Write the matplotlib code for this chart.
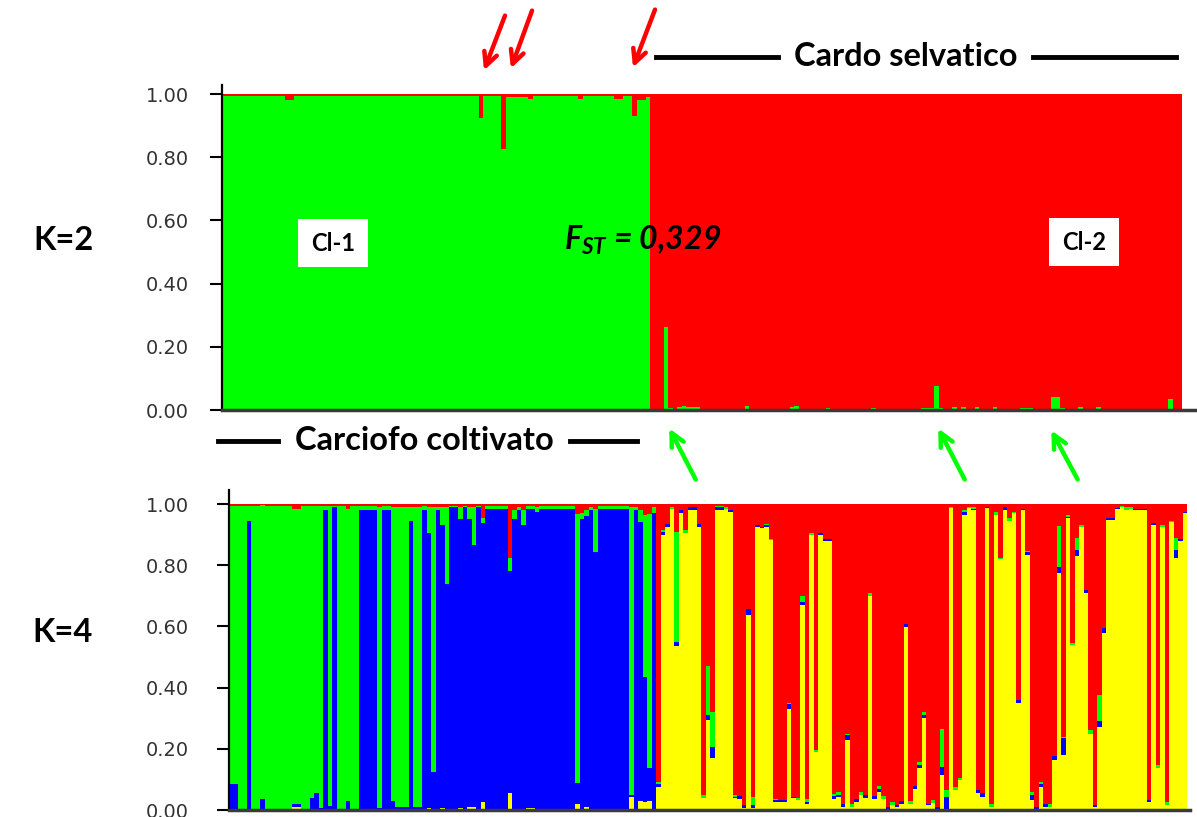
import numpy as np
import matplotlib
matplotlib.use('Agg')
import matplotlib.pyplot as plt

# colours of the clusters
GREEN = '#00ff00'
RED = '#ff0000'
BLUE = '#0000ff'
YELLOW = '#ffff00'

# K=2 : green membership, run-length (count, green); red = 1 - green
k2_cult = [(14, 0.995), (2, 0.98), (41, 0.995), (1, 0.925), (4, 0.995), (1, 0.825),
           (5, 0.99), (1, 0.985), (10, 0.993), (1, 0.985), (7, 0.993), (2, 0.985),
           (2, 0.993), (1, 0.93), (2, 0.98), (1, 0.99)]
k2_wild = [(3, 0.0), (1, 0.264), (1, 0.005), (1, 0.0), (1, 0.008), (1, 0.013), (3, 0.008),
           (10, 0.0), (1, 0.013), (9, 0.0), (1, 0.008), (1, 0.013), (6, 0.0), (1, 0.005),
           (9, 0.0), (1, 0.005), (10, 0.0), (3, 0.006), (1, 0.077), (1, 0.006), (2, 0.0),
           (1, 0.008), (1, 0.0), (1, 0.008), (2, 0.0), (1, 0.008), (3, 0.0), (1, 0.008),
           (5, 0.0), (3, 0.006), (4, 0.0), (2, 0.042), (1, 0.005), (3, 0.0), (1, 0.008),
           (3, 0.0), (1, 0.008), (15, 0.0), (1, 0.035), (2, 0.0)]

# K=4 cultivated : run-length (count, yellow, blue, green); red = rest
k4_cult = [(2, 0, 0.084, 0.911), (2, 0, 0, 0.995), (1, 0, 0.945, 0.05), (2, 0, 0, 0.995),
           (1, 0, 0.036, 0.96), (6, 0, 0, 0.995), (2, 0.01, 0.01, 0.965), (2, 0, 0, 0.995),
           (1, 0, 0.04, 0.955), (1, 0, 0.055, 0.94), (1, 0, 0.005, 0.99), (1, 0, 0.98, 0.015),
           (1, 0, 0.014, 0.98), (1, 0, 0.99, 0.005), (2, 0, 0, 0.995), (1, 0, 0.03, 0.955),
           (2, 0, 0, 0.995),
           (4, 0, 0.98, 0.012), (1, 0, 0.005, 0.985), (2, 0, 0.98, 0.012), (1, 0, 0.03, 0.96),
           (3, 0, 0.01, 0.98), (1, 0, 0.945, 0.045), (2, 0, 0.01, 0.98), (1, 0, 0.98, 0.015),
           (1, 0.005, 0.90, 0.085), (1, 0, 0.125, 0.865), (1, 0, 0.98, 0.01),
           (1, 0.005, 0.925, 0.06), (1, 0, 0.74, 0.25), (2, 0, 0.99, 0.005),
           (1, 0.005, 0.945, 0.04), (1, 0, 0.99, 0.005), (1, 0.01, 0.94, 0.04),
           (1, 0.01, 0.856, 0.125), (1, 0, 0.99, 0.005), (1, 0.025, 0.912, 0.016),
           (5, 0, 0.985, 0.01),
           (1, 0.054, 0.727, 0.041), (1, 0, 0.95, 0.03), (1, 0, 0.98, 0.01), (1, 0, 0.93, 0.05),
           (2, 0.005, 0.98, 0.01), (1, 0, 0.975, 0.015), (8, 0, 0.985, 0.01),
           (1, 0.02, 0.067, 0.88), (1, 0, 0.95, 0.02), (1, 0.01, 0.95, 0.02), (1, 0, 0.98, 0.01),
           (1, 0, 0.844, 0.14), (7, 0, 0.985, 0.01), (1, 0.044, 0.005, 0.94), (1, 0, 0.98, 0.01),
           (1, 0.03, 0.91, 0.04), (1, 0.025, 0.41, 0.53), (1, 0.028, 0.11, 0.83),
           (1, 0, 0.97, 0.02)]

# K=4 wild, one value per individual; red = rest
wild_yellow = [0.076, 0.90, 0.925, 0.985, 0.537, 0.97, 0.904, 0.98, 0.98, 0.925,
               0.038, 0.294, 0.17, 0.98, 0.98, 0.985, 0.975, 0.038, 0.035, 0.005,
               0.637, 0.005, 0.925, 0.92, 0.925, 0.882, 0.027, 0.027, 0.027, 0.33,
               0.038, 0.033, 0.67, 0.02, 0.90, 0.19, 0.90, 0.88, 0.88, 0.036,
               0.044, 0.011, 0.23, 0.01, 0.027, 0.05, 0.038, 0.70, 0.036, 0.06,
               0.036, 0.0, 0.016, 0.011, 0.019, 0.597, 0.019, 0.07, 0.136, 0.30,
               0.016, 0.022, 0.0, 0.114, 0.0, 0.986, 0.065, 0.098, 0.964, 0.986,
               0.98, 0.054, 0.044, 0.986, 0.011, 0.964, 0.82, 0.98, 0.945, 0.97,
               0.35, 0.98, 0.833, 0.033, 0.0, 0.076, 0.011, 0.011, 0.163, 0.773,
               0.18, 0.953, 0.54, 0.83, 0.926, 0.71, 0.25, 0.011, 0.27, 0.58,
               0.948, 0.948, 0.983, 0.99, 0.98, 0.985, 0.98, 0.98, 0.98, 0.027,
               0.933, 0.136, 0.926, 0.016, 0.94, 0.825, 0.88, 0.97]
wild_blue = [0.01, 0.01, 0.01, 0.0, 0.013, 0.01, 0.0, 0.01, 0.01, 0.01,
             0.0, 0.015, 0.035, 0.01, 0.01, 0.0, 0.005, 0.005, 0.01, 0.01,
             0.02, 0.01, 0.005, 0.005, 0.005, 0.0, 0.005, 0.005, 0.005, 0.015,
             0.005, 0.0, 0.01, 0.005, 0.0, 0.0, 0.005, 0.005, 0.005, 0.01,
             0.005, 0.01, 0.015, 0.0, 0.01, 0.0, 0.01, 0.0, 0.01, 0.01,
             0.0, 0.01, 0.0, 0.005, 0.01, 0.01, 0.0, 0.01, 0.01, 0.01,
             0.005, 0.0, 0.01, 0.027, 0.044, 0.0, 0.0, 0.0, 0.01, 0.0,
             0.005, 0.01, 0.01, 0.005, 0.0, 0.0, 0.0, 0.01, 0.0, 0.0,
             0.01, 0.005, 0.01, 0.015, 0.01, 0.01, 0.01, 0.0, 0.015, 0.02,
             0.054, 0.005, 0.0, 0.02, 0.0, 0.01, 0.0, 0.005, 0.02, 0.015,
             0.005, 0.005, 0.005, 0.0, 0.0, 0.0, 0.005, 0.005, 0.005, 0.005,
             0.005, 0.0, 0.0, 0.0, 0.0, 0.025, 0.005, 0.005]
wild_green = [0.005, 0.005, 0.0, 0.005, 0.36, 0.0, 0.01, 0.0, 0.0, 0.0,
              0.01, 0.16, 0.115, 0.005, 0.005, 0.005, 0.0, 0.005, 0.0, 0.0,
              0.0, 0.027, 0.0, 0.0, 0.005, 0.005, 0.005, 0.0, 0.0, 0.005,
              0.0, 0.005, 0.02, 0.01, 0.005, 0.005, 0.0, 0.0, 0.0, 0.005,
              0.01, 0.0, 0.005, 0.01, 0.0, 0.01, 0.0, 0.01, 0.0, 0.01,
              0.01, 0.0, 0.01, 0.0, 0.0, 0.0, 0.01, 0.0, 0.01, 0.01,
              0.0, 0.01, 0.0, 0.125, 0.02, 0.005, 0.01, 0.005, 0.005, 0.005,
              0.005, 0.0, 0.0, 0.0, 0.01, 0.01, 0.005, 0.0, 0.01, 0.005,
              0.0, 0.0, 0.005, 0.01, 0.0, 0.005, 0.0, 0.01, 0.0, 0.135,
              0.005, 0.005, 0.005, 0.04, 0.005, 0.0, 0.01, 0.0, 0.085, 0.0,
              0.0, 0.0, 0.0, 0.005, 0.01, 0.005, 0.0, 0.0, 0.0, 0.0,
              0.0, 0.01, 0.005, 0.01, 0.005, 0.04, 0.0, 0.0]

yticks = [0.0, 0.2, 0.4, 0.6, 0.8, 1.0]
ytick_labels = ['0.00', '0.20', '0.40', '0.60', '0.80', '1.00']


def expand(runs):
    cols = list(zip(*[[r[0]] + list(r[1:]) for r in runs]))
    counts = np.array(cols[0])
    return [np.repeat(np.array(c, dtype=float), counts) for c in cols[1:]]


k2_green = np.concatenate([expand(k2_cult)[0], expand(k2_wild)[0]])
cy, cb, cg = expand(k4_cult)
k4_yellow = np.concatenate([cy, wild_yellow])
k4_blue = np.concatenate([cb, wild_blue])
k4_green = np.concatenate([cg, wild_green])
N = len(k2_green)

W, H = 1197, 817
fig = plt.figure(figsize=(W / 100, H / 100), dpi=100)


def fx(x):
    return x / W


def fy(y):
    return 1 - y / H


def stack(ax, layers):
    x = np.arange(N + 1)
    low = np.zeros(N)
    for vals, col in layers:
        high = low + vals
        ax.fill_between(x, np.append(low, low[-1]), np.append(high, high[-1]),
                        step='post', color=col, linewidth=0)
        low = high


def style(ax, pad):
    ax.set_yticks(yticks)
    ax.set_yticklabels(ytick_labels)
    ax.set_xticks([])
    for s in ['top', 'right']:
        ax.spines[s].set_visible(False)
    ax.spines['left'].set_linewidth(1.6)
    ax.spines['bottom'].set_linewidth(2.5)
    ax.spines['bottom'].set_color('#3a3a3a')
    ax.tick_params(axis='y', length=9, width=1.5, labelsize=14, labelcolor='#333333', pad=pad)


# top panel K=2
top_h = 316 * 1.03
ax1 = fig.add_axes([fx(222), fy(410), fx(1197) - fx(222), top_h / H])
stack(ax1, [(k2_green, GREEN), (1 - k2_green, RED)])
ax1.set_xlim(0, N * (1197 - 222) / 960)
ax1.set_ylim(0, 1.03)
style(ax1, 15)

# bottom panel K=4
bot_h = 306 * 1.045
ax2 = fig.add_axes([fx(229), fy(810), fx(1190) - fx(229), bot_h / H])
k4_red = 1 - k4_yellow - k4_blue - k4_green
stack(ax2, [(k4_yellow, YELLOW), (k4_blue, BLUE), (k4_green, GREEN), (k4_red, RED)])
ax2.set_xlim(0, N * (1190 - 229) / 958)
ax2.set_ylim(0, 1.045)
style(ax2, 20)

lab = dict(fontfamily='Lato', fontweight='bold', fontsize=23.5, va='center')

# group labels with bars
fig.text(fx(906), fy(57), 'Cardo selvatico', ha='center', **lab)
fig.text(fx(424), fy(441), 'Carciofo coltivato', ha='center', **lab)
for x0, x1, y in [(656, 778, 57), (1033, 1176, 57), (218, 278, 441), (570, 637, 441)]:
    fig.add_artist(plt.Line2D([fx(x0), fx(x1)], [fy(y), fy(y)], color='black', lw=3.5))

fig.text(fx(63), fy(240), 'K=2', ha='center', **lab)
fig.text(fx(63), fy(633), 'K=4', ha='center', **lab)

box = dict(facecolor='white', edgecolor='none', pad=9)
fig.text(fx(333), fy(243), 'Cl-1', ha='center', va='center', fontfamily='Lato',
         fontweight='bold', fontsize=17, bbox=box)
fig.text(fx(1084), fy(242), 'Cl-2', ha='center', va='center', fontfamily='Lato',
         fontweight='bold', fontsize=17, bbox=box)

plt.rcParams['mathtext.fontset'] = 'custom'
plt.rcParams['mathtext.bfit'] = 'Lato:italic:bold'
fig.text(fx(643), fy(240), r'$\mathbfit{F}_{\mathbfit{ST}}$ = 0,329', ha='center', va='center',
         fontfamily='Lato', fontweight='bold', style='italic', fontsize=23)

# arrows
red_arrows = [((506, 13), (483, 73)), ((533, 8), (510, 71)), ((656, 7), (632, 70))]
green_arrows = [((697, 482), (668, 426)), ((966, 482), (937, 426)), ((1079, 482), (1050, 428))]
for arrows, col in [(red_arrows, RED), (green_arrows, GREEN)]:
    for (x0, y0), (x1, y1) in arrows:
        fig.add_artist(matplotlib.patches.FancyArrowPatch(
            (fx(x0), fy(y0)), (fx(x1), fy(y1)), transform=fig.transFigure,
            arrowstyle='->', color=col, lw=3.2, mutation_scale=24))

fig.savefig('out.png', dpi=100)
